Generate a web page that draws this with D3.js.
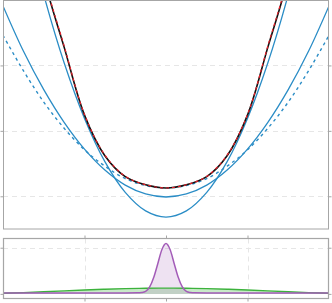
<!DOCTYPE html>
<html>
<head>
<meta charset="utf-8">
<script src="https://cdn.jsdelivr.net/npm/d3@7"></script>
<style>
  body { margin: 0; background: #fff; }
  svg { display: block; }
</style>
</head>
<body>
<div id="chart"></div>
<script>
// sample positions (x, both panels)
var xs = [-2, -1.75, -1.5, -1.25, -1, -0.75, -0.5, -0.25, 0, 0.25, 0.5, 0.75, 1, 1.25, 1.5, 1.75, 2];

// top panel: energy curve and its approximations
var trueCurve  = [8.0, 6.0, 4.35, 3.28, 2.24, 1.62, 1.3, 1.175, 1.127, 1.175, 1.3, 1.62, 2.24, 3.28, 4.35, 6.0, 8.0];
var redCurve   = [8.1, 6.05, 4.38, 3.3, 2.25, 1.63, 1.305, 1.177, 1.127, 1.177, 1.305, 1.63, 2.25, 3.3, 4.38, 6.05, 8.1];
var steepQuad  = [6.72, 5.31, 4.08, 3.04, 2.19, 1.53, 1.06, 0.777, 0.683, 0.777, 1.06, 1.53, 2.19, 3.04, 4.08, 5.31, 6.72];
var wideQuad   = [3.91, 3.22, 2.63, 2.13, 1.72, 1.40, 1.17, 1.035, 0.989, 1.035, 1.17, 1.40, 1.72, 2.13, 2.63, 3.22, 3.91];
var dashQuad   = [3.46, 2.92, 2.44, 2.04, 1.71, 1.46, 1.27, 1.164, 1.127, 1.164, 1.27, 1.46, 1.71, 2.04, 2.44, 2.92, 3.46];

// bottom panel: densities
var peakX  = [-2, -1, -0.5, -0.35, -0.3, -0.25, -0.2, -0.15, -0.1, -0.05, 0, 0.05, 0.1, 0.15, 0.2, 0.25, 0.3, 0.35, 0.5, 1, 2];
var peakY  = [0.02, 0.02, 0.02, 0.022, 0.03, 0.055, 0.15, 0.36, 0.66, 0.96, 1.09, 0.96, 0.66, 0.36, 0.15, 0.055, 0.03, 0.022, 0.02, 0.02, 0.02];
var broadY = [0.015, 0.028, 0.045, 0.065, 0.085, 0.102, 0.115, 0.122, 0.125, 0.122, 0.115, 0.102, 0.085, 0.065, 0.045, 0.028, 0.015];

var topTicksY = [1, 2, 3];
var botTicksX = [-1, 0, 1];
var botGridX = [-1, 1];
var botTicksY = [0, 1];

var W = 332, H = 303;
var left = 3, right = 329;
var top1 = 0.5, bot1 = 229;
var top2 = 238.5, bot2 = 298.5;

var blue = "#2b8dc6", purple = "#a35cb8", green = "#3cb23c";
var frameColor = "#a6a6a6", gridColor = "#e6e6e6";

var svg = d3.select("#chart").append("svg")
    .attr("width", W)
    .attr("height", H);

var x = d3.scaleLinear().domain([-2, 2]).range([left, right]);
var y1 = d3.scaleLinear().domain([0.5, 4.0]).range([bot1, 0]);
var y2 = d3.scaleLinear().domain([-0.1, 1.2]).range([bot2, top2]);

svg.append("clipPath").attr("id", "clip1")
    .append("rect")
    .attr("x", left).attr("y", top1)
    .attr("width", right - left).attr("height", bot1 - top1);

svg.append("clipPath").attr("id", "clip2")
    .append("rect")
    .attr("x", left).attr("y", top2)
    .attr("width", right - left).attr("height", bot2 - top2);

// grid lines
svg.append("g").selectAll("line")
    .data(topTicksY).enter().append("line")
    .attr("x1", left).attr("x2", right)
    .attr("y1", function(d){ return Math.round(y1(d)) + 0.5; })
    .attr("y2", function(d){ return Math.round(y1(d)) + 0.5; })
    .attr("stroke", gridColor)
    .attr("stroke-dasharray", "5,4");

svg.append("g").selectAll("line")
    .data(botGridX).enter().append("line")
    .attr("x1", function(d){ return Math.round(x(d)) + 0.5; })
    .attr("x2", function(d){ return Math.round(x(d)) + 0.5; })
    .attr("y1", top2).attr("y2", bot2)
    .attr("stroke", gridColor)
    .attr("stroke-dasharray", "5,4");

svg.append("line")
    .attr("x1", left).attr("x2", right)
    .attr("y1", Math.round(y2(1)) + 0.5).attr("y2", Math.round(y2(1)) + 0.5)
    .attr("stroke", gridColor)
    .attr("stroke-dasharray", "5,4");

// top panel curves
var line1 = d3.line()
    .x(function(d, i){ return x(xs[i]); })
    .y(function(d){ return y1(d); })
    .curve(d3.curveCatmullRom.alpha(0.5));

var g1 = svg.append("g").attr("clip-path", "url(#clip1)");

g1.append("path").attr("d", line1(dashQuad))
    .attr("fill", "none").attr("stroke", blue)
    .attr("stroke-width", 1.4).attr("stroke-dasharray", "3,3.5");
g1.append("path").attr("d", line1(wideQuad))
    .attr("fill", "none").attr("stroke", blue).attr("stroke-width", 1.3);
g1.append("path").attr("d", line1(steepQuad))
    .attr("fill", "none").attr("stroke", blue).attr("stroke-width", 1.3);
g1.append("path").attr("d", line1(trueCurve))
    .attr("fill", "none").attr("stroke", "#111").attr("stroke-width", 1.6);
g1.append("path").attr("d", line1(redCurve))
    .attr("fill", "none").attr("stroke", "#e8212b")
    .attr("stroke-width", 1.2).attr("stroke-dasharray", "3,3");

// bottom panel densities
var g2 = svg.append("g").attr("clip-path", "url(#clip2)");

var broadArea = d3.area()
    .x(function(d, i){ return x(xs[i]); })
    .y0(y2(0)).y1(function(d){ return y2(d); })
    .curve(d3.curveNatural);
var broadLine = d3.line()
    .x(function(d, i){ return x(xs[i]); })
    .y(function(d){ return y2(d); })
    .curve(d3.curveNatural);
var peakArea = d3.area()
    .x(function(d, i){ return x(peakX[i]); })
    .y0(y2(0)).y1(function(d){ return y2(d); })
    .curve(d3.curveMonotoneX);
var peakLine = d3.line()
    .x(function(d, i){ return x(peakX[i]); })
    .y(function(d){ return y2(d); })
    .curve(d3.curveMonotoneX);

g2.append("path").attr("d", broadArea(broadY))
    .attr("fill", green).attr("fill-opacity", 0.28);
g2.append("path").attr("d", peakArea(peakY))
    .attr("fill", purple).attr("fill-opacity", 0.18);
g2.append("path").attr("d", broadLine(broadY))
    .attr("fill", "none").attr("stroke", green).attr("stroke-width", 1.4);
g2.append("path").attr("d", peakLine(peakY))
    .attr("fill", "none").attr("stroke", purple).attr("stroke-width", 1.5);

// frames
svg.append("rect")
    .attr("x", left + 0.5).attr("y", top1)
    .attr("width", right - left - 1).attr("height", bot1 - top1)
    .attr("fill", "none").attr("stroke", frameColor);
svg.append("rect")
    .attr("x", left + 0.5).attr("y", top2)
    .attr("width", right - left - 1).attr("height", bot2 - top2)
    .attr("fill", "none").attr("stroke", frameColor).attr("stroke-width", 1.2);

// ticks
function noLabels(axis){ return axis.tickFormat("").tickSizeOuter(0); }

function styleAxis(g){
    g.select(".domain").remove();
    g.selectAll(".tick line").attr("stroke", frameColor);
}

svg.append("g").attr("transform", "translate(" + (left + 0.5) + ",0)")
    .call(noLabels(d3.axisLeft(y1).tickValues(topTicksY).tickSize(3)))
    .call(styleAxis);
svg.append("g").attr("transform", "translate(" + (right - 0.5) + ",0)")
    .call(noLabels(d3.axisRight(y1).tickValues(topTicksY).tickSize(3)))
    .call(styleAxis);

svg.append("g").attr("transform", "translate(" + (left + 0.5) + ",0)")
    .call(noLabels(d3.axisLeft(y2).tickValues(botTicksY).tickSize(3)))
    .call(styleAxis);
svg.append("g").attr("transform", "translate(" + (right - 0.5) + ",0)")
    .call(noLabels(d3.axisRight(y2).tickValues(botTicksY).tickSize(3)))
    .call(styleAxis);
svg.append("g").attr("transform", "translate(0," + top2 + ")")
    .call(noLabels(d3.axisTop(x).tickValues(botTicksX).tickSize(3)))
    .call(styleAxis);
svg.append("g").attr("transform", "translate(0," + bot2 + ")")
    .call(noLabels(d3.axisBottom(x).tickValues(botTicksX).tickSize(3)))
    .call(styleAxis);
</script>
</body>
</html>
